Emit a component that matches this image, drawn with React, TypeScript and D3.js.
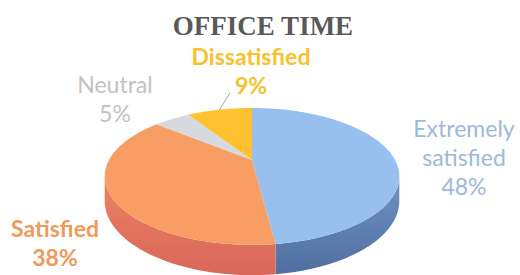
import * as d3 from 'd3'

// slice data, clockwise from 12 o'clock
const categories = ['Extremely satisfied', 'Satisfied', 'Neutral', 'Dissatisfied']
const values = [48, 38, 5, 9]
const labelNames = [['Extremely', 'satisfied'], ['Satisfied'], ['Neutral'], ['Dissatisfied']]

const topColors = ['#97c0ee', '#f89d63', '#d6d9df', '#fec12f']
const sideTop = ['#6f93c6', '#ec8263', '#b9bcc2', '#e0a520']
const sideBottom = ['#4f6f9f', '#d9675a', '#9fa2a8', '#c48c14']
const labelColors = ['#9cb9dd', '#ef9a5a', '#c2c2c2', '#f8c22c']
const labelBold = [false, true, false, true]
// label anchor: center x, first baseline
const labelPos: [number, number][] = [[464, 137], [55, 237], [115, 93], [251, 65]]

const W = 520
const H = 275
const cx = 252
const cy = 160
const rx = 143
const ry = 64.5
const persp = 0.24
const depth = 23
const lineH = 29

function project(theta: number, drop = 0): [number, number] {
  const u = Math.sin(theta)
  const v = -Math.cos(theta)
  const s = 1 / (1 - persp * v)
  return [cx + rx * u * s, cy + (ry * v + drop) * s]
}

function rim(a0: number, a1: number, drop = 0) {
  const n = Math.max(2, Math.ceil(((a1 - a0) * 180) / Math.PI))
  return d3.range(n + 1).map(i => project(a0 + ((a1 - a0) * i) / n, drop))
}

export default function App() {
  const pie = d3.pie<number>().sort(null).value(d => d)
  const arcs = pie(values)
  const line = d3.line()

  // visible side wall between the two silhouette points
  const visA = Math.acos(-persp)
  const visB = 2 * Math.PI - visA

  const sides = arcs.map((a, i) => {
    const s = Math.max(a.startAngle, visA)
    const e = Math.min(a.endAngle, visB)
    if (e <= s) return null
    const pts = [...rim(s, e), ...rim(s, e, depth).reverse()]
    return <path key={'s' + i} d={line(pts) + 'Z'} fill={`url(#side${i})`} />
  })

  const tops = arcs.map((a, i) => {
    const pts: [number, number][] = [[cx, cy], ...rim(a.startAngle, a.endAngle)]
    return <path key={'t' + i} d={line(pts) + 'Z'} fill={topColors[i]} />
  })

  const labels = arcs.map((a, i) => {
    const [lx, ly] = labelPos[i]
    const lines = [...labelNames[i], `${values[i]}%`]
    return (
      <text
        key={'l' + i}
        x={lx}
        y={ly}
        textAnchor="middle"
        fill={labelColors[i]}
        fontFamily="Lato, 'Open Sans', sans-serif"
        fontSize={23}
        fontWeight={labelBold[i] ? 700 : 400}
      >
        {lines.map((t, j) => (
          <tspan key={j} x={lx} y={ly + j * lineH}>{t}</tspan>
        ))}
      </text>
    )
  })

  // leader line for the small back slice
  const dIdx = categories.indexOf('Dissatisfied')
  const dArc = arcs[dIdx]
  const [ex, ey] = project((dArc.startAngle + dArc.endAngle) / 2)
  const [dlx, dly] = labelPos[dIdx]

  return (
    <svg width={W} height={H} style={{ position: 'absolute', left: 0, top: 0, background: '#fff' }}>
      <defs>
        {categories.map((c, i) => (
          <linearGradient key={c} id={`side${i}`} x1="0" y1="0" x2="0" y2="1">
            <stop offset="0%" stopColor={sideTop[i]} />
            <stop offset="100%" stopColor={sideBottom[i]} />
          </linearGradient>
        ))}
      </defs>
      <text
        x={263}
        y={35}
        textAnchor="middle"
        fontFamily="'Liberation Serif', serif"
        fontWeight={700}
        fontSize={27}
        fill="#595959"
      >
        OFFICE TIME
      </text>
      {sides}
      {tops}
      <line x1={dlx - 21} y1={dly + lineH - 1} x2={ex} y2={ey} stroke="#a6a6a6" strokeWidth={1} />
      {labels}
    </svg>
  )
}
